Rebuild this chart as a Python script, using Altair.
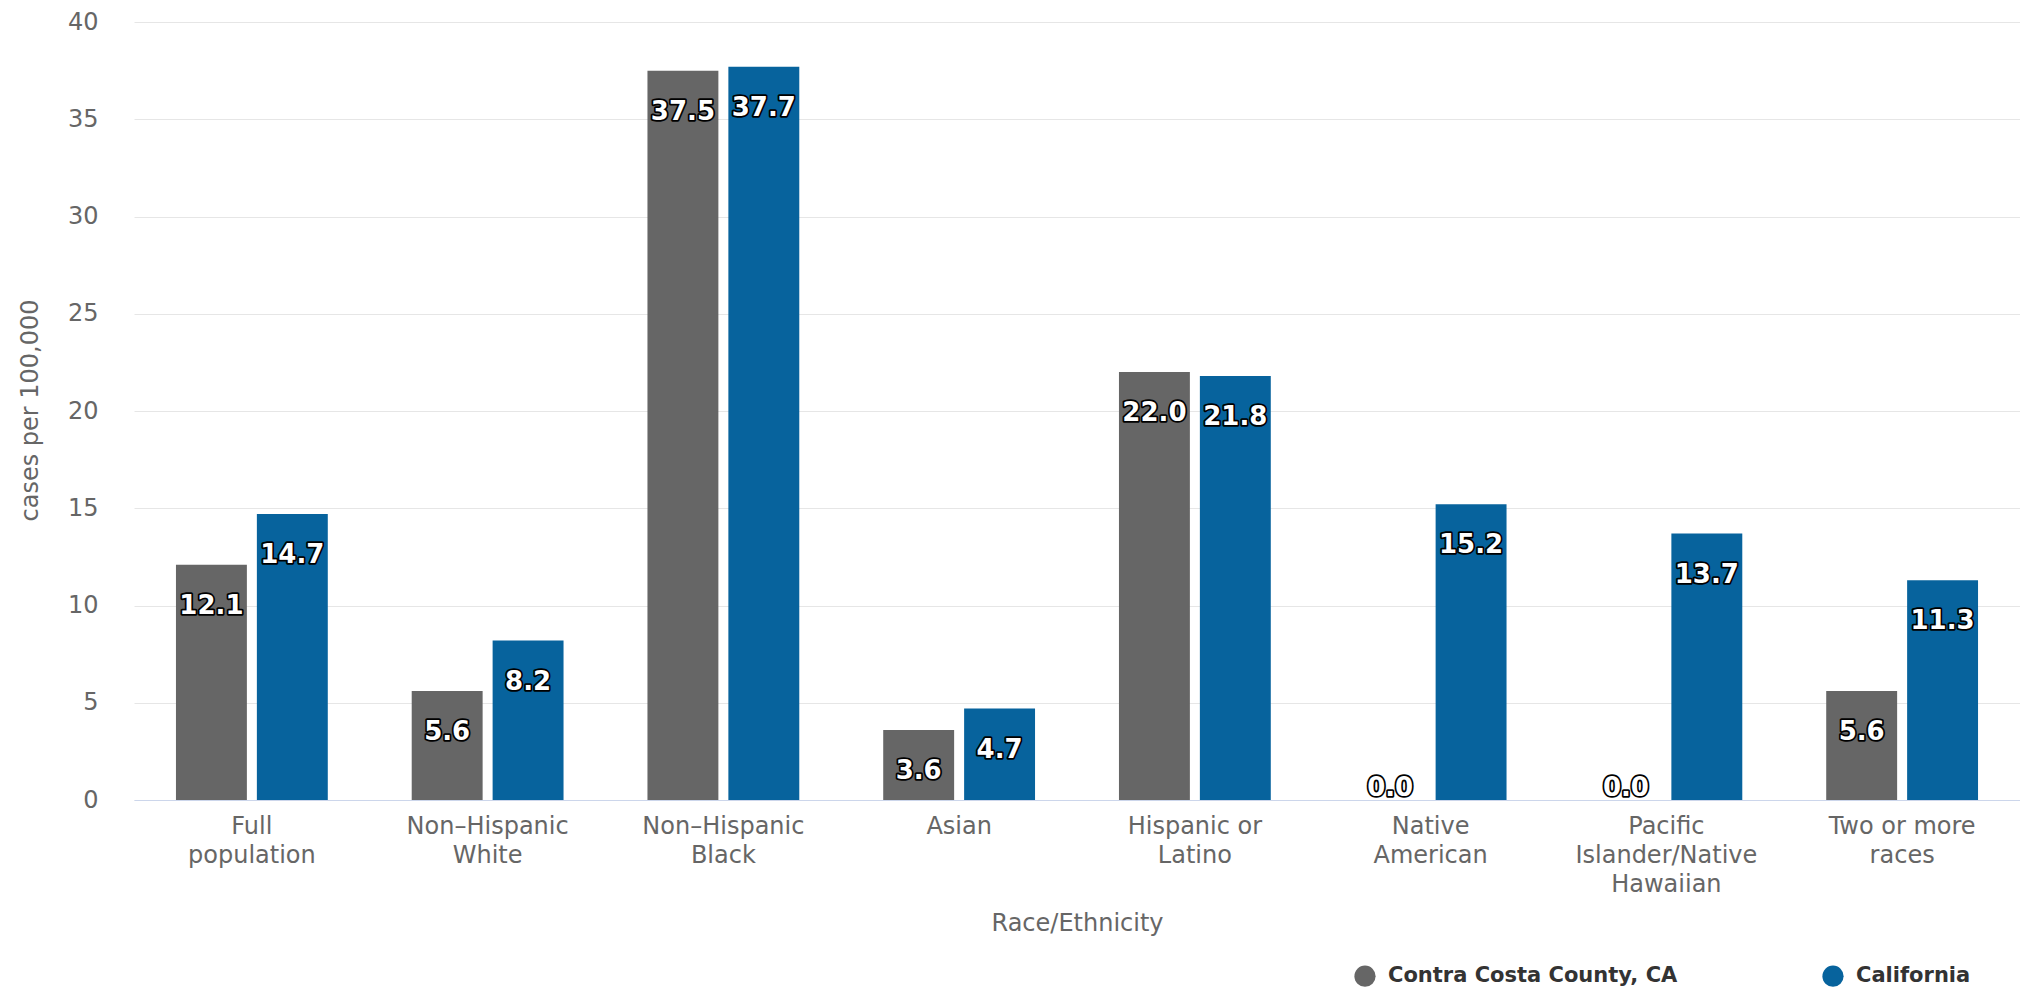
import altair as alt
import pandas as pd

categories = [
    "Full population",
    "Non-Hispanic White",
    "Non-Hispanic Black",
    "Asian",
    "Hispanic or Latino",
    "Native American",
    "Pacific Islander/Native Hawaiian",
    "Two or more races",
]
label_lines = [
    ["Full", "population"],
    ["Non\u2013Hispanic", "White"],
    ["Non\u2013Hispanic", "Black"],
    ["Asian"],
    ["Hispanic or", "Latino"],
    ["Native", "American"],
    ["Pacific", "Islander/Native", "Hawaiian"],
    ["Two or more", "races"],
]
series = ["Contra Costa County, CA", "California"]
county_values = [12.1, 5.6, 37.5, 3.6, 22.0, 0.0, 0.0, 5.6]
state_values = [14.7, 8.2, 37.7, 4.7, 21.8, 15.2, 13.7, 11.3]
colors = ["#666666", "#07639d"]
y_ticks = [0, 5, 10, 15, 20, 25, 30, 35, 40]

rows = []
for c, a, b in zip(categories, county_values, state_values):
    rows.append({"category": c, "series": series[0], "value": a})
    rows.append({"category": c, "series": series[1], "value": b})
df = pd.DataFrame(rows)
df["label"] = df["value"].map(lambda v: f"{v:.1f}")

def js_str(s):
    return "'" + s.replace("'", "\\'") + "'"

parts = []
for c, lines in zip(categories, label_lines):
    arr = "[" + ",".join(js_str(l) for l in lines) + "]"
    parts.append(f"datum.value == {js_str(c)} ? {arr} : ")
label_expr = "".join(parts) + "datum.label"

FONT = "DejaVu Sans"

x_enc = alt.X(
    "category:N",
    sort=categories,
    scale=alt.Scale(paddingInner=0.356, paddingOuter=0.178),
    axis=alt.Axis(
        title="Race/Ethnicity",
        labelAngle=0,
        labelExpr=label_expr,
        labelFont=FONT,
        labelFontSize=24,
        labelColor="#666666",
        labelLineHeight=29,
        labelPadding=14,
        labelBaseline="top",
        labelLimit=0,
        ticks=False,
        domainColor="#ccd6eb",
        domainWidth=1,
        titleFont=FONT,
        titleFontSize=24,
        titleFontWeight="normal",
        titleColor="#666666",
        titleY=123,
        titleBaseline="middle",
        grid=False,
    ),
)
xoff_enc = alt.XOffset(
    "series:N",
    sort=series,
    scale=alt.Scale(paddingInner=0.1235, paddingOuter=0),
)
y_enc = alt.Y(
    "value:Q",
    scale=alt.Scale(domain=[0, 40], nice=False),
    axis=alt.Axis(
        title="cases per 100,000",
        values=y_ticks,
        labelFont=FONT,
        labelFontSize=24,
        labelColor="#666666",
        labelPadding=36,
        ticks=False,
        domain=False,
        gridColor="#e6e6e6",
        gridWidth=1,
        titleFont=FONT,
        titleFontSize=24,
        titleFontWeight="normal",
        titleColor="#666666",
        titleX=-104,
        titleY=388,
        titleBaseline="middle",
        titleAngle=-90,
    ),
)

base = alt.Chart(df)

bars = base.mark_bar().encode(
    x=x_enc,
    xOffset=xoff_enc,
    y=y_enc,
    color=alt.Color(
        "series:N",
        sort=series,
        scale=alt.Scale(domain=series, range=colors),
        legend=alt.Legend(
            title=None,
            orient="none",
            direction="horizontal",
            legendX=1220,
            legendY=943,
            symbolType="circle",
            symbolSize=450,
            symbolStrokeWidth=0,
            labelFont=FONT,
            labelFontSize=21,
            labelFontWeight="bold",
            labelColor="#333333",
            labelOffset=12,
            labelLimit=500,
            columnPadding=144,
        ),
    ),
)

def text_layer(cond, dy, outline):
    kw = dict(font=FONT, fontSize=26, fontWeight="bold", baseline="middle", align="center", dy=dy)
    if outline:
        mk = base.mark_text(fill="white", stroke="black", strokeWidth=3.5, strokeJoin="round", **kw)
    else:
        mk = base.mark_text(fill="white", **kw)
    return mk.encode(
        x=alt.X("category:N", sort=categories),
        xOffset=alt.XOffset("series:N", sort=series),
        y=alt.Y("value:Q"),
        text="label:N",
    ).transform_filter(cond)

layers = [bars]
for outline in (True, False):
    layers.append(text_layer("datum.value > 0", 41, outline))
    layers.append(text_layer("datum.value == 0", -12, outline))

chart = (
    alt.layer(*layers)
    .properties(
        width=1886,
        height=778,
        autosize=alt.AutoSizeParams(type="none"),
        padding={"left": 126, "top": 14, "right": 0, "bottom": 188},
        background="white",
    )
    .configure_view(stroke=None)
)

chart.save("out.html", embed_options={"renderer": "svg", "actions": False})
